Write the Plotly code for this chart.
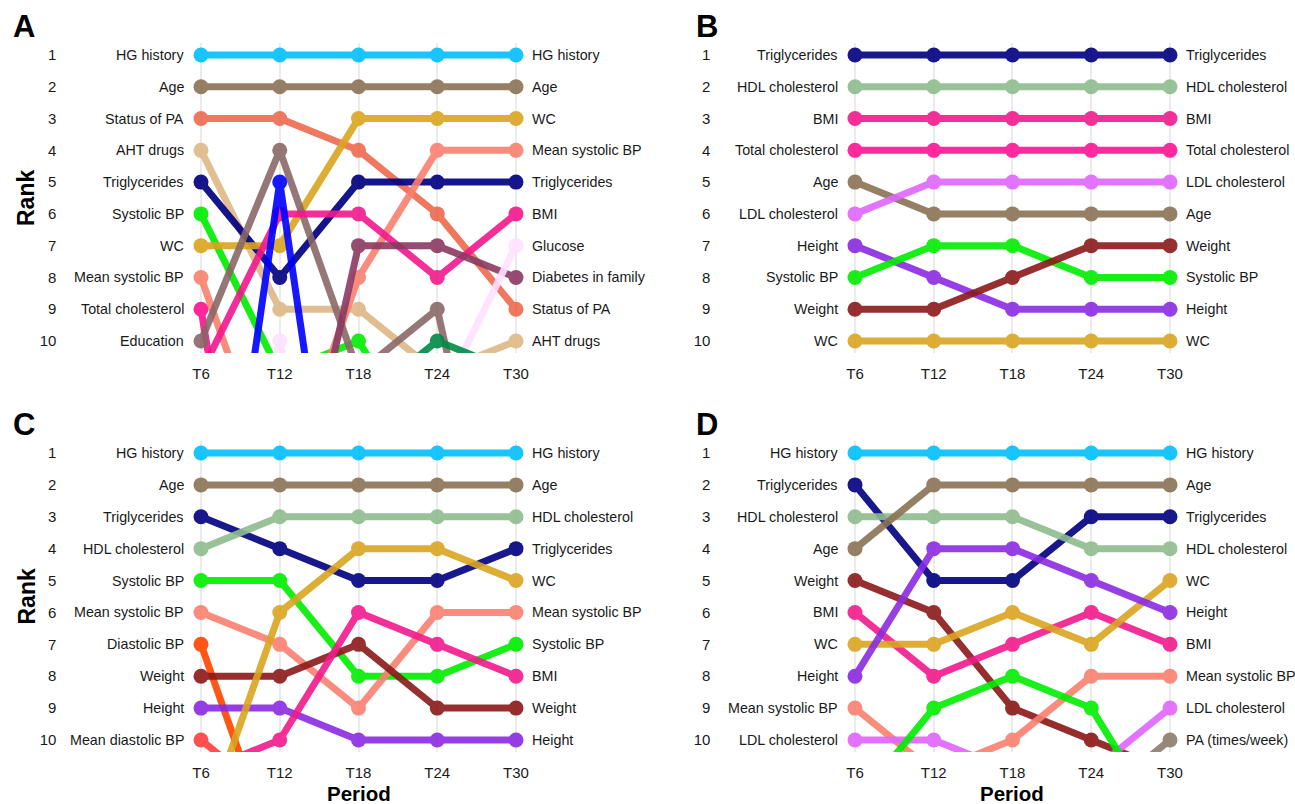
import plotly.graph_objects as go

periods = ["T6", "T12", "T18", "T24", "T30"]
rank_ticks = list(range(1, 11))

# ---------------- Panel A ----------------
a_names = ["HG history", "Age", "Status of PA", "AHT drugs", "Triglycerides",
           "Systolic BP", "WC", "Mean systolic BP", "Total cholesterol", "Education",
           "BMI", "Diabetes in family", "Glucose", "Unlabelled factor 1", "Unlabelled factor 2"]
a_ranks = [
    [1, 1, 1, 1, 1],
    [2, 2, 2, 2, 2],
    [3, 3, 4, 6, 9],
    [4, 9, 9, 11, 10],
    [5, 8, 5, 5, 5],
    [6, 11, 10, 14, 15],
    [7, 7, 3, 3, 3],
    [8, 15, 8, 4, 4],
    [9, 24, 20, 18, 18],
    [10, 4, 11, 9, 20],
    [11, 6, 6, 8, 6],
    [19, 18, 7, 7, 8],
    [20, 10, 21, 12, 7],
    [22, 5, 22, 20, 21],
    [14, 13, 12, 10, 11],
]

# ---------------- Panel B ----------------
b_names = ["Triglycerides", "HDL cholesterol", "BMI", "Total cholesterol", "Age",
           "LDL cholesterol", "Height", "Systolic BP", "Weight", "WC"]
b_ranks = [
    [1, 1, 1, 1, 1],
    [2, 2, 2, 2, 2],
    [3, 3, 3, 3, 3],
    [4, 4, 4, 4, 4],
    [5, 6, 6, 6, 6],
    [6, 5, 5, 5, 5],
    [7, 8, 9, 9, 9],
    [8, 7, 7, 8, 8],
    [9, 9, 8, 7, 7],
    [10, 10, 10, 10, 10],
]

# ---------------- Panel C ----------------
c_names = ["HG history", "Age", "Triglycerides", "HDL cholesterol", "Systolic BP",
           "Mean systolic BP", "Diastolic BP", "Weight", "Height", "Mean diastolic BP",
           "WC", "BMI"]
c_ranks = [
    [1, 1, 1, 1, 1],
    [2, 2, 2, 2, 2],
    [3, 4, 5, 5, 4],
    [4, 3, 3, 3, 3],
    [5, 5, 8, 8, 7],
    [6, 7, 9, 6, 6],
    [7, 14, 16, 15, 16],
    [8, 8, 7, 9, 9],
    [9, 9, 10, 10, 10],
    [10, 12, 14, 13, 14],
    [13, 6, 4, 4, 5],
    [11, 10, 6, 7, 8],
]

# ---------------- Panel D ----------------
d_names = ["HG history", "Triglycerides", "HDL cholesterol", "Age", "Weight",
           "BMI", "WC", "Height", "Mean systolic BP", "LDL cholesterol",
           "Systolic BP", "PA (times/week)"]
d_ranks = [
    [1, 1, 1, 1, 1],
    [2, 5, 5, 3, 3],
    [3, 3, 3, 4, 4],
    [4, 2, 2, 2, 2],
    [5, 6, 9, 10, 11],
    [6, 8, 7, 6, 7],
    [7, 7, 6, 7, 5],
    [8, 4, 4, 5, 6],
    [9, 11, 10, 8, 8],
    [10, 10, 11, 11, 9],
    [12, 9, 8, 9, 13],
    [14, 13, 13, 12, 10],
]

colors = {
    "HG history": "#00BFFF",
    "Age": "#8B7355",
    "Status of PA": "#EE6A50",
    "AHT drugs": "#DEB887",
    "Triglycerides": "#000080",
    "Systolic BP": "#00EE00",
    "WC": "#DAA520",
    "Mean systolic BP": "#FA8072",
    "Total cholesterol": "#FF1493",
    "Education": "#8B6969",
    "BMI": "#F21A8C",
    "Diabetes in family": "#8B3A62",
    "Glucose": "#FFE1FF",
    "Unlabelled factor 1": "#0000FF",
    "Unlabelled factor 2": "#008B45",
    "HDL cholesterol": "#8FBC8F",
    "LDL cholesterol": "#E066FF",
    "Height": "#8A2BE2",
    "Weight": "#8B1A1A",
    "Diastolic BP": "#FF4500",
    "Mean diastolic BP": "#FF4040",
    "PA (times/week)": "#8B7D6B",
}

# body margin is removed below, so the figure fills the window exactly
W, H = 1295, 804


def px(xs):
    return xs / W


def py(ys):
    return 1 - ys / H


FONT = "Liberation Sans, Arial, sans-serif"
TXT = "#1a1a1a"

# screen-pixel geometry of the panels
step = 78.75
ab_top, ab_bot = 43, 353
cd_top, cd_bot = 441, 752
a_t6, b_t6 = 201, 855

panels = [
    ("A", a_names, a_ranks, a_t6, ab_top, ab_bot, 55, 341, False),
    ("B", b_names, b_ranks, b_t6, ab_top, ab_bot, 55, 341, False),
    ("C", c_names, c_ranks, a_t6, cd_top, cd_bot, 453, 740, True),
    ("D", d_names, d_ranks, b_t6, cd_top, cd_bot, 453, 740, True),
]

fig = go.Figure()
annotations = []
layout_axes = {}

for i, (letter, names, ranks, t6, top, bot, y1, y10, show_period) in enumerate(panels):
    n = i + 1
    xa = "x" if n == 1 else f"x{n}"
    ya = "y" if n == 1 else f"y{n}"
    xkey = "xaxis" if n == 1 else f"xaxis{n}"
    ykey = "yaxis" if n == 1 else f"yaxis{n}"

    xd = [px(t6 - 0.3 * step), px(t6 + 4.3 * step)]
    yd = [py(bot), py(top)]
    per = (y10 - y1) / 9
    yr = [10 + (bot - y10) / per, 1 - (y1 - top) / per]

    for name, r in zip(names, ranks):
        fig.add_trace(go.Scatter(
            x=periods, y=r, mode="lines+markers", name=name,
            line=dict(color=colors[name], width=7),
            marker=dict(color=colors[name], size=15),
            opacity=0.9, xaxis=xa, yaxis=ya, showlegend=False,
            cliponaxis=True, hoverinfo="name+y",
        ))
        if r[0] <= 10:
            annotations.append(dict(
                x=periods[0], y=r[0], xref=xa, yref=ya, text=name,
                xanchor="right", yanchor="middle", xshift=-15, showarrow=False,
                font=dict(family=FONT, size=14.3, color=TXT)))
        if r[-1] <= 10:
            annotations.append(dict(
                x=periods[-1], y=r[-1], xref=xa, yref=ya, text=name,
                xanchor="left", yanchor="middle", xshift=14, showarrow=False,
                font=dict(family=FONT, size=14.3, color=TXT)))

    layout_axes[xkey] = dict(
        domain=xd, anchor=ya, type="category",
        categoryorder="array", categoryarray=periods,
        range=[-0.3, 4.3], showgrid=True, gridcolor="#EBEBEB", gridwidth=2,
        zeroline=False, showline=False, ticks="", ticklabelstandoff=10,
        tickfont=dict(family=FONT, size=15, color=TXT), fixedrange=True,
    )
    layout_axes[ykey] = dict(
        domain=yd, anchor=xa, range=yr, tickmode="array",
        tickvals=rank_ticks, ticktext=[str(t) for t in rank_ticks],
        showgrid=False, zeroline=False, showline=False, ticks="",
        ticklabelstandoff=120,
        tickfont=dict(family=FONT, size=15, color=TXT), fixedrange=True,
    )

    lx = 24 if letter in ("A", "C") else 707
    ly = 26 if letter in ("A", "B") else 424
    annotations.append(dict(
        x=px(lx), y=py(ly), xref="paper", yref="paper", text=f"<b>{letter}</b>",
        xanchor="center", yanchor="middle", showarrow=False,
        font=dict(family=FONT, size=31, color="#000000")))

    if letter in ("A", "C"):
        annotations.append(dict(
            x=px(26), y=(yd[0] + yd[1]) / 2, xref="paper", yref="paper", text="<b>Rank</b>",
            textangle=-90, xanchor="center", yanchor="middle", showarrow=False,
            font=dict(family=FONT, size=23, color="#000000")))
    if show_period:
        annotations.append(dict(
            x=periods[2], y=py(793), xref=xa, yref="paper", text="<b>Period</b>",
            xanchor="center", yanchor="middle", showarrow=False,
            font=dict(family=FONT, size=20.5, color="#000000")))

fig.update_layout(
    width=W, height=H,
    margin=dict(l=0, r=0, t=0, b=0),
    paper_bgcolor="white", plot_bgcolor="white",
    annotations=annotations,
    font=dict(family=FONT, size=14, color=TXT),
    **layout_axes,
)

fig.write_html(
    "out.html",
    config={"displayModeBar": False},
    post_script=("document.body.style.margin='0px';"
                 "document.body.style.padding='0px';"
                 "document.documentElement.style.overflow='hidden';"),
)
